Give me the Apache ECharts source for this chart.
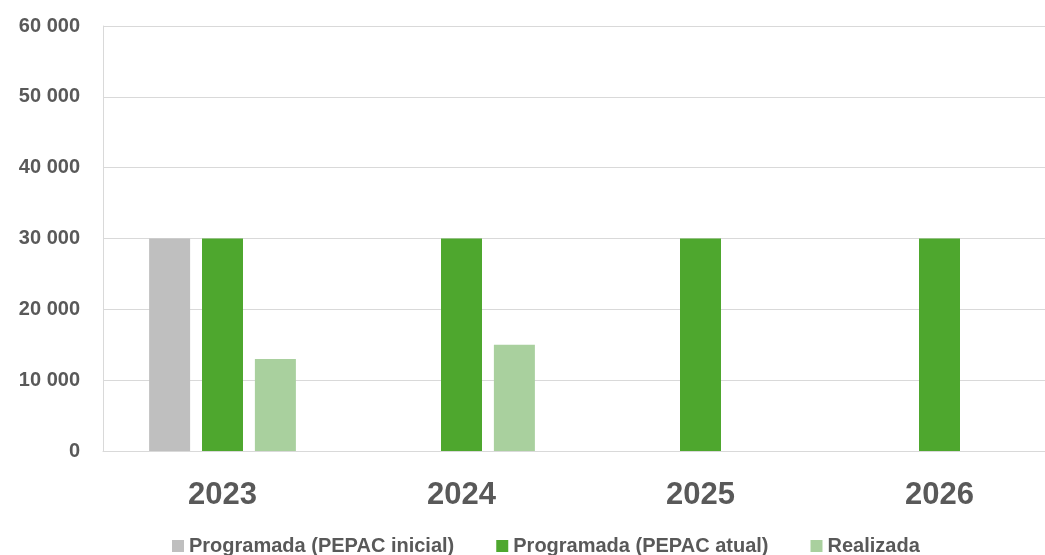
<!DOCTYPE html>
<html><head><meta charset="utf-8">
<script src="https://cdn.jsdelivr.net/npm/echarts@6/dist/echarts.min.js"></script>
<style>html,body{margin:0;padding:0;background:#fff;overflow:hidden}#c{width:1059px;height:555px}</style>
</head><body><div id="c"></div>
<script>
const categories = ['2023', '2024', '2025', '2026'];
const seriesNames = ['Programada (PEPAC inicial)', 'Programada (PEPAC atual)', 'Realizada'];
const inicial = [30000, null, null, null];
const atual = [30000, 30000, 30000, 30000];
const realizada = [13000, 15000, null, null];
const colors = ['#BFBFBF', '#4EA72E', '#A9D09E'];

const chart = echarts.init(document.getElementById('c'), null, {renderer: 'canvas'});
const fmt = v => String(v).replace(/\B(?=(\d{3})+(?!\d))/g, ' ');
chart.setOption({
  animation: false,
  color: colors,
  grid: {left: 103, right: 0, top: 26, bottom: 104, containLabel: false},
  legend: {
    bottom: -6, left: 167, itemWidth: 12, itemHeight: 12, itemGap: 42,
    icon: 'rect',
    textStyle: {fontFamily: 'Liberation Sans', fontWeight: 'bold', fontSize: 20, color: '#595959'},
    data: seriesNames
  },
  xAxis: {
    type: 'category', data: categories,
    axisLine: {show: true, lineStyle: {color: '#D9D9D9', width: 1}},
    axisTick: {show: false},
    axisLabel: {margin: 29, fontFamily: 'Liberation Sans', fontWeight: 'bold', fontSize: 31, color: '#595959'}
  },
  yAxis: {
    type: 'value', min: 0, max: 60000, interval: 10000,
    axisLine: {show: true, lineStyle: {color: '#D9D9D9', width: 1}},
    splitLine: {lineStyle: {color: '#D9D9D9', width: 1}},
    axisLabel: {margin: 23, formatter: fmt, fontFamily: 'Liberation Sans', fontWeight: 'bold', fontSize: 20, color: '#595959'}
  },
  series: [
    {name: seriesNames[0], type: 'bar', data: inicial, barWidth: 41, barGap: '29%'},
    {name: seriesNames[1], type: 'bar', data: atual, barWidth: 41, barGap: '29%'},
    {name: seriesNames[2], type: 'bar', data: realizada, barWidth: 41, barGap: '29%'}
  ]
});
</script></body></html>
